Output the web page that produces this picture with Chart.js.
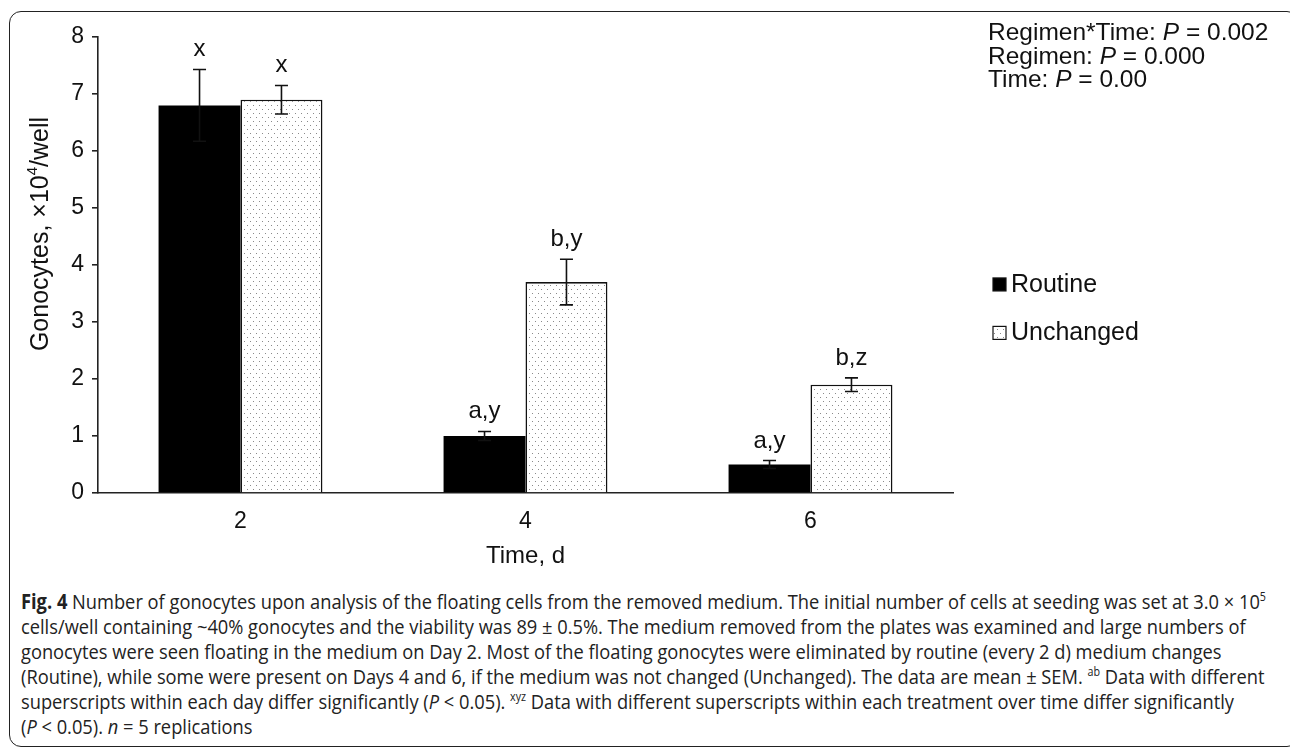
<!DOCTYPE html>
<html>
<head>
<meta charset="utf-8">
<script src="https://cdn.jsdelivr.net/npm/chart.js@4.4.1/dist/chart.umd.min.js"></script>
<style>
  html, body { margin: 0; padding: 0; background: #fff; }
  body { width: 1290px; height: 751px; position: relative; overflow: hidden; font-family: "Liberation Sans", Arial, sans-serif; }
  #frame { position: absolute; left: 9px; top: 11px; width: 1290px; height: 736px; border: 1.5px solid #222; border-radius: 12px; box-sizing: border-box; }
  #wrap { position: absolute; left: 0; top: 0; width: 1290px; height: 580px; }
  #stats { position: absolute; left: 988px; top: 20px; font-size: 24.5px; line-height: 23.5px; color: #111; }
  #caption { position: absolute; left: 21px; top: 589px; font-family: "Open Sans", "Noto Sans", sans-serif; font-size: 20.5px; line-height: 25px; color: #222; white-space: nowrap; }
  #caption div { transform-origin: 0 50%; width: max-content; }
  #caption sup { font-size: 12px; line-height: 0; }
</style>
</head>
<body>
<div id="frame"></div>
<div id="wrap"><canvas id="c" width="1290" height="580"></canvas></div>
<div id="stats">Regimen*Time: <i>P</i> = 0.002<br>Regimen: <i>P</i> = 0.000<br>Time: <i>P</i> = 0.00</div>
<div id="caption">
<div><b>Fig. 4</b> Number of gonocytes upon analysis of the floating cells from the removed medium. The initial number of cells at seeding was set at 3.0 × 10<sup>5</sup></div>
<div>cells/well containing ~40% gonocytes and the viability was 89 ± 0.5%. The medium removed from the plates was examined and large numbers of</div>
<div>gonocytes were seen floating in the medium on Day 2. Most of the floating gonocytes were eliminated by routine (every 2 d) medium changes</div>
<div>(Routine), while some were present on Days 4 and 6, if the medium was not changed (Unchanged). The data are mean ± SEM. <sup>ab</sup> Data with different</div>
<div>superscripts within each day differ significantly (<i>P</i> &lt; 0.05). <sup>xyz</sup> Data with different superscripts within each treatment over time differ significantly</div>
<div>(<i>P</i> &lt; 0.05). <i>n</i> = 5 replications</div>
</div>
<script>
// ---- data ----
const categories = ['2', '4', '6'];
const seriesNames = ['Routine', 'Unchanged'];
const routineValues = [6.8, 1.0, 0.5];
const unchangedValues = [6.9, 3.7, 1.9];
const routineSEM = [0.63, 0.08, 0.07];
const unchangedSEM = [0.25, 0.40, 0.12];
const routineLetters = ['x', 'a,y', 'a,y'];
const unchangedLetters = ['x', 'b,y', 'b,z'];
const yTicks = [0, 1, 2, 3, 4, 5, 6, 7, 8];

// condensed caption: scale lines so the first line spans the reference width
(function () {
  const lines = document.querySelectorAll('#caption div');
  const s = 1245 / lines[0].getBoundingClientRect().width;
  lines.forEach(l => { l.style.transform = 'scaleX(' + s + ')'; });
})();

const FONT = '"Liberation Sans", Arial, sans-serif';

function makePattern(ctx) {
  const p = document.createElement('canvas');
  p.width = 6; p.height = 8;
  const g = p.getContext('2d');
  g.fillStyle = '#ffffff'; g.fillRect(0, 0, 6, 8);
  g.fillStyle = '#8a8a8a';
  g.fillRect(1, 1, 1, 1);
  g.fillRect(4, 5, 1, 1);
  return ctx.createPattern(p, 'repeat');
}
const ctx0 = document.getElementById('c').getContext('2d');
const dots = makePattern(ctx0);

const errs = [routineSEM, unchangedSEM];
const letters = [routineLetters, unchangedLetters];

const errorBarPlugin = {
  id: 'errorBars',
  afterDatasetsDraw(chart) {
    const ctx = chart.ctx;
    const y = chart.scales.y;
    ctx.save();
    chart.data.datasets.forEach((ds, di) => {
      const meta = chart.getDatasetMeta(di);
      meta.data.forEach((bar, i) => {
        const v = ds.data[i], e = errs[di][i];
        const top = y.getPixelForValue(v + e), bot = y.getPixelForValue(v - e);
        const x = bar.x;
        ctx.strokeStyle = '#111';
        ctx.lineWidth = 1.6;
        ctx.beginPath();
        ctx.moveTo(x, top); ctx.lineTo(x, bot);
        ctx.moveTo(x - 6.5, top); ctx.lineTo(x + 6.5, top);
        ctx.moveTo(x - 6.5, bot); ctx.lineTo(x + 6.5, bot);
        ctx.stroke();
        ctx.fillStyle = '#111';
        ctx.font = '24px ' + FONT;
        ctx.textAlign = 'center';
        ctx.textBaseline = 'alphabetic';
        ctx.fillText(letters[di][i], x, top - 13);
      });
    });
    ctx.restore();
  }
};

const extrasPlugin = {
  id: 'extras',
  afterDraw(chart) {
    const ctx = chart.ctx;
    const ya = chart.scales.y;
    const area = chart.chartArea;
    ctx.save();
    // y-axis title
    ctx.translate(41, (ya.top + ya.bottom) / 2 - 31);
    ctx.rotate(-Math.PI / 2);
    ctx.fillStyle = '#111';
    ctx.textBaseline = 'middle';
    const f = '25px ' + FONT;
    const fs = '15px ' + FONT;
    const parts = [['Gonocytes, ×10', f, 0], ['4', fs, -8], ['/well', f, 0]];
    let w = 0;
    parts.forEach(p => { ctx.font = p[1]; w += ctx.measureText(p[0]).width; });
    let x = -w / 2;
    ctx.textAlign = 'left';
    parts.forEach(p => { ctx.font = p[1]; ctx.fillText(p[0], x, p[2]); x += ctx.measureText(p[0]).width; });
    ctx.restore();

    // legend
    ctx.save();
    const lx = area.right + 40, ly0 = ya.getPixelForValue(3.65), ly1 = ya.getPixelForValue(2.8);
    [ly0, ly1].forEach((ly, i) => {
      const ds = chart.data.datasets[i];
      ctx.fillStyle = ds.backgroundColor;
      ctx.fillRect(lx, ly - 7, 13, 13);
      ctx.strokeStyle = '#111';
      ctx.lineWidth = 1.2;
      ctx.strokeRect(lx, ly - 7, 13, 13);
      ctx.fillStyle = '#111';
      ctx.font = '25px ' + FONT;
      ctx.textAlign = 'left';
      ctx.textBaseline = 'middle';
      ctx.fillText(ds.label, lx + 18, ly);
    });
    ctx.restore();
  }
};

new Chart(ctx0, {
  type: 'bar',
  data: {
    labels: categories,
    datasets: [
      { label: seriesNames[0], data: routineValues, backgroundColor: '#000000', borderColor: '#000000', borderWidth: 0 },
      { label: seriesNames[1], data: unchangedValues, backgroundColor: dots, borderColor: '#111111', borderWidth: 1.6 }
    ]
  },
  options: {
    responsive: false,
    animation: false,
    devicePixelRatio: 1,
    categoryPercentage: 0.575,
    barPercentage: 1.0,
    layout: { padding: { left: 12, top: 37, right: 337, bottom: 0 } },
    plugins: { legend: { display: false }, tooltip: { enabled: false } },
    scales: {
      x: {
        grid: { display: false, drawTicks: false },
        border: { display: true, color: '#222', width: 1.6 },
        ticks: { color: '#111', font: { size: 23, family: FONT }, padding: 15 },
        title: { display: true, text: 'Time, d', color: '#111', font: { size: 24, family: FONT }, padding: { top: 0, bottom: 9 } },
        afterFit(s) { s.height = 87; }
      },
      y: {
        min: 0, max: 8,
        afterBuildTicks(s) { s.ticks = yTicks.map(v => ({ value: v })); },
        grid: { drawOnChartArea: false, drawTicks: true, tickLength: 6, color: '#222', lineWidth: 1.6 },
        border: { display: true, color: '#222', width: 1.6 },
        ticks: { color: '#111', font: { size: 23, family: FONT }, padding: 8 },
        afterFit(s) { s.width = 86; }
      }
    }
  },
  plugins: [errorBarPlugin, extrasPlugin]
});
</script>
</body>
</html>
